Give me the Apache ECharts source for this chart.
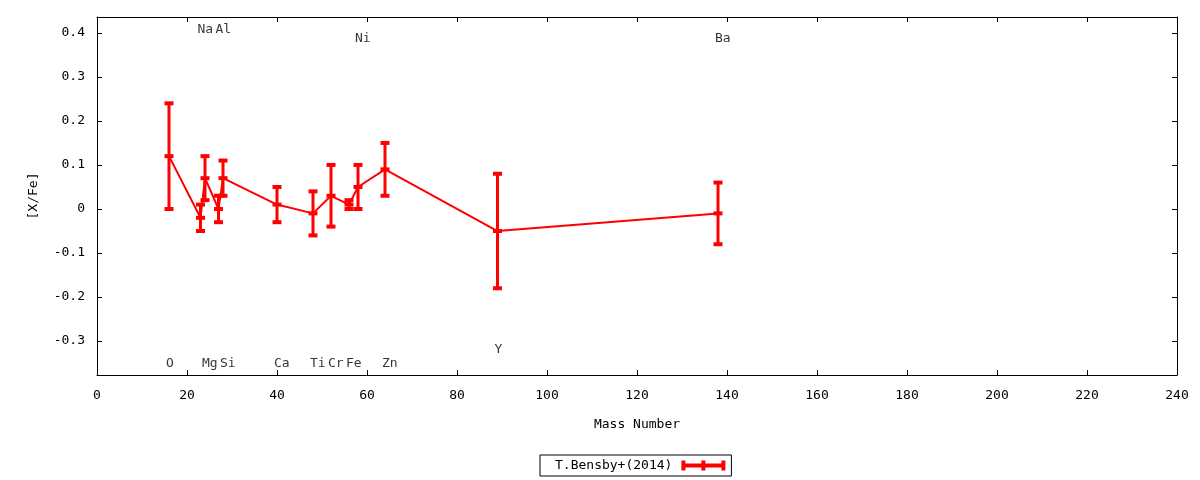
<!DOCTYPE html>
<html>
<head>
<meta charset="utf-8">
<script src="https://cdn.jsdelivr.net/npm/echarts@6/dist/echarts.min.js"></script>
<style>html,body{margin:0;padding:0;background:#fff}#c{width:1200px;height:480px}</style>
</head>
<body>
<div id="c"></div>
<script>
// Data
const elements = ['O','Na','Mg','Al','Si','Ca','Ti','Cr','Fe','Ni','Zn','Y','Ba'];
const massNumbers = [16,23,24,27,28,40,48,52,56,58,64,89,138];
const xFe = [0.12,-0.02,0.07,0.00,0.07,0.01,-0.01,0.03,0.01,0.05,0.09,-0.05,-0.01];
const xFeErr = [0.12,0.03,0.05,0.03,0.04,0.04,0.05,0.07,0.01,0.05,0.06,0.13,0.07];
// element label positions (x = mass number, y = [X/Fe])
const labelY = [-0.35,0.41,-0.35,0.41,-0.35,-0.35,-0.35,-0.35,-0.35,0.39,-0.35,-0.318,0.39];
const xTicks = [0,20,40,60,80,100,120,140,160,180,200,220,240];
const yTicks = [-0.3,-0.2,-0.1,0,0.1,0.2,0.3,0.4];
const xRange = [0,240];
const yRange = [-0.377,0.436];
const seriesName = 'T.Bensby+(2014)';

const FONT = 'DejaVu Sans Mono';
const RED = '#ff0000';

const chart = echarts.init(document.getElementById('c'));
const pts = massNumbers.map((m,i)=>[m,xFe[i]]);
const errData = massNumbers.map((m,i)=>[m,xFe[i],xFeErr[i]]);
const lblData = massNumbers.map((m,i)=>({value:[m,labelY[i]], name:elements[i]}));

const axisLineStyle = {show:true,onZero:false,lineStyle:{color:'#000',width:1}};
const tickStyle = {show:true,inside:true,length:5,lineStyle:{color:'#000',width:1}};
chart.setOption({
  animation:false,
  backgroundColor:'#fff',
  grid:{left:97,right:23,top:17,bottom:105,containLabel:false},
  xAxis:[{
    type:'value',min:xRange[0],max:xRange[1],interval:20,
    name:'Mass Number',nameLocation:'middle',nameGap:43,
    nameTextStyle:{fontFamily:FONT,fontSize:13,color:'#000'},
    axisLine:axisLineStyle,
    axisTick:Object.assign({customValues:xTicks},tickStyle),
    axisLabel:{fontFamily:FONT,fontSize:13,color:'#000',margin:14,customValues:xTicks},
    splitLine:{show:false}
  },{
    type:'value',position:'top',min:xRange[0],max:xRange[1],interval:20,
    axisLine:axisLineStyle,
    axisTick:Object.assign({customValues:xTicks},tickStyle),
    axisLabel:{show:false,customValues:xTicks},splitLine:{show:false}
  }],
  yAxis:[{
    type:'value',position:'left',min:yRange[0],max:yRange[1],
    name:'[X/Fe]',nameLocation:'middle',nameGap:57,nameRotate:90,
    nameTextStyle:{fontFamily:FONT,fontSize:13,color:'#000'},
    axisLine:axisLineStyle,
    axisTick:Object.assign({customValues:yTicks},tickStyle),
    axisLabel:{fontFamily:FONT,fontSize:13,color:'#000',margin:12,customValues:yTicks,
      formatter:v=>String(Math.round(v*10)/10)},
    splitLine:{show:false}
  },{
    type:'value',position:'right',min:yRange[0],max:yRange[1],
    axisLine:axisLineStyle,
    axisTick:Object.assign({customValues:yTicks},tickStyle),
    axisLabel:{show:false,customValues:yTicks},splitLine:{show:false}
  }],
  legend:{
    data:[{name:seriesName,icon:'path://M0,0h4v10h-4z M40,0h4v10h-4z M20,0h4v10h-4z M0,3h44v4h-44z'}],
    left:540,top:455,align:'right',
    itemWidth:44,itemHeight:10,
    borderColor:'#000',borderWidth:1,borderRadius:0,
    padding:[4,6,4,15],
    textStyle:{fontFamily:FONT,fontSize:13,color:'#000',padding:[0,4,0,0]},
    selectedMode:false
  },
  series:[
    {
      name:seriesName,type:'line',data:pts,showSymbol:false,symbol:'none',
      lineStyle:{color:RED,width:2},itemStyle:{color:RED},z:3
    },
    {
      name:'errbars',type:'custom',data:errData,z:4,
      renderItem:function(params,api){
        const x=api.value(0),y=api.value(1),e=api.value(2);
        const t=api.coord([x,y+e]),b=api.coord([x,y-e]),c=api.coord([x,y]);
        const cw=9,ch=4;
        const st={fill:RED};
        return {type:'group',children:[
          {type:'line',shape:{x1:t[0],y1:t[1],x2:b[0],y2:b[1]},style:{stroke:RED,lineWidth:3}},
          {type:'rect',shape:{x:t[0]-cw/2,y:t[1]-ch/2,width:cw,height:ch},style:st},
          {type:'rect',shape:{x:b[0]-cw/2,y:b[1]-ch/2,width:cw,height:ch},style:st},
          {type:'rect',shape:{x:c[0]-cw/2,y:c[1]-ch/2,width:cw,height:ch},style:st}
        ]};
      }
    },
    {
      name:'labels',type:'scatter',data:lblData,symbolSize:0,silent:true,
      label:{show:true,position:'inside',align:'left',offset:[-3,1],
        formatter:p=>p.name,fontFamily:FONT,fontSize:13,color:'#000'}
    }
  ]
});
</script>
</body>
</html>
